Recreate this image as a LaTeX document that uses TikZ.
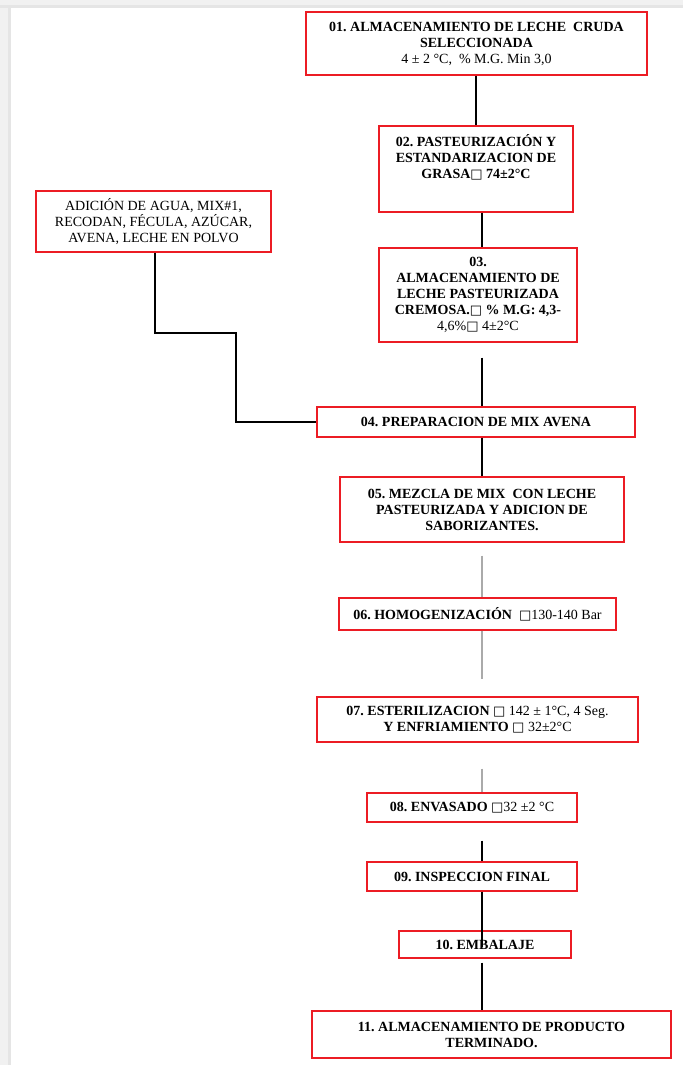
\documentclass[tikz,border=0pt]{standalone}
\usepackage{fontspec}
\setmainfont{Liberation Serif}
\newfontfamily\symfont{DejaVu Sans}
\newcommand\sq{{\symfont\fontsize{13}{13}\selectfont □}}
\definecolor{boxred}{RGB}{236,28,36}
\definecolor{pagegray}{RGB}{241,241,241}
\definecolor{edgegray}{RGB}{229,229,229}
\definecolor{linkgray}{RGB}{170,170,170}
\frenchspacing
\tikzset{
  stepbox/.style={draw=boxred,line width=1.4pt,inner sep=0pt,
    minimum width=#1,anchor=center},
  boxtext/.style={align=center,inner sep=0pt,
    font=\fontsize{14}{16}\selectfont\bfseries},
  link/.style={draw=black,line width=1.3pt},
  greylink/.style={draw=linkgray,line width=2.8pt},
}
\begin{document}
\begin{tikzpicture}[x=1pt,y=-1pt]
% page and its grey margin
\fill[pagegray] (0,0) rectangle (683,1065);
\fill[edgegray] (0,5) rectangle (683,8);
\fill[edgegray] (8,5) rectangle (11,1065);
\fill[white] (11,8) rectangle (683,1065);
\useasboundingbox (0,0) rectangle (683,1065);

% process boxes
\node[stepbox=341pt,minimum height=63pt] (b01) at (476.5,43.5) {};
\node[boxtext] (t01) at (b01.center) {01. ALMACENAMIENTO DE LECHE \ CRUDA\\SELECCIONADA\\\mdseries 4 ± 2 °C, \ \% M.G. Min 3,0};

\node[stepbox=194pt,minimum height=86pt] (b02) at (476,169) {};
\node[boxtext,anchor=north] (t02) at ([yshift=-9pt]b02.north) {02. PASTEURIZACIÓN Y\\ESTANDARIZACION DE\\GRASA\sq\ 74±2°C};

\node[stepbox=198pt,minimum height=94pt] (b03) at (478,295) {};
\node[boxtext] (t03) at (b03.center) {03.\\ALMACENAMIENTO DE\\LECHE PASTEURIZADA\\CREMOSA.\sq\ \% M.G: 4,3-\\\mdseries 4,6\%\sq\ 4±2°C};

\node[stepbox=235pt,minimum height=61pt] (bA) at (153.5,221.5) {};
\node[boxtext,font=\fontsize{14}{16}\selectfont] (tA) at (bA.center) {ADICIÓN DE AGUA, MIX\#1,\\RECODAN, FÉCULA, AZÚCAR,\\AVENA, LECHE EN POLVO};

\node[stepbox=318pt,minimum height=30pt] (b04) at (476,422) {};
\node[boxtext] (t04) at (b04.center) {04. PREPARACION DE MIX AVENA};

\node[stepbox=284pt,minimum height=65pt] (b05) at (482,509.5) {};
\node[boxtext] (t05) at (b05.center) {05. MEZCLA DE MIX \ CON LECHE\\PASTEURIZADA Y ADICION DE\\SABORIZANTES.};

\node[stepbox=277pt,minimum height=32pt] (b06) at (477.5,614) {};
\node[boxtext] (t06) at (b06.center) {06. HOMOGENIZACIÓN \ \mdseries\sq130-140 Bar};

\node[stepbox=321pt,minimum height=45pt] (b07) at (477.5,719.5) {};
\node[boxtext] (t07) at (b07.center) {07. ESTERILIZACION \sq\ \mdseries 142 ± 1°C, 4 Seg.\\Y ENFRIAMIENTO \sq\ \mdseries 32±2°C};

\node[stepbox=210pt,minimum height=29pt] (b08) at (472,807.5) {};
\node[boxtext] (t08) at (b08.center) {08. ENVASADO \sq\mdseries 32 ±2 °C};

\node[stepbox=210pt,minimum height=29pt] (b09) at (472,876.5) {};
\node[boxtext] (t09) at (b09.center) {09. INSPECCION FINAL};

\node[stepbox=172pt,minimum height=27pt] (b10) at (485,944.5) {};
\node[boxtext] (t10) at (b10.center) {10. EMBALAJE};

\node[stepbox=359pt,minimum height=47pt] (b11) at (491.5,1034.5) {};
\node[boxtext] (t11) at (b11.center) {11. ALMACENAMIENTO DE PRODUCTO\\TERMINADO.};

% connector positions
\coordinate (top) at (476,0);
\coordinate (trunk) at (482,0);
\coordinate (e1) at (155,0);
\coordinate (e2) at (236,333);

% connectors
\draw[link] (b01.south -| top) -- (b02.north -| top);
\draw[link] (b02.south -| trunk) -- (b03.north -| trunk);
\draw[link,shorten <=15pt] (b03.south -| trunk) -- (b04.north -| trunk);
\draw[link] (bA.south -| e1) |- (e2) |- (b04.west);
\draw[link] (b04.south -| trunk) -- (b05.north -| trunk);
\draw[greylink,shorten <=13pt] (b05.south -| trunk) -- (b06.north -| trunk);
\draw[greylink,shorten >=17pt] (b06.south -| trunk) -- (b07.north -| trunk);
\draw[greylink,shorten <=26pt] (b07.south -| trunk) -- (b08.north -| trunk);
\draw[link,shorten <=18pt] (b08.south -| trunk) -- (b09.north -| trunk);
\draw[link,shorten >=-17pt] (b09.south -| trunk) -- (b10.north -| trunk);
\draw[link,shorten <=4pt] (b10.south -| trunk) -- (b11.north -| trunk);
\end{tikzpicture}
\end{document}
